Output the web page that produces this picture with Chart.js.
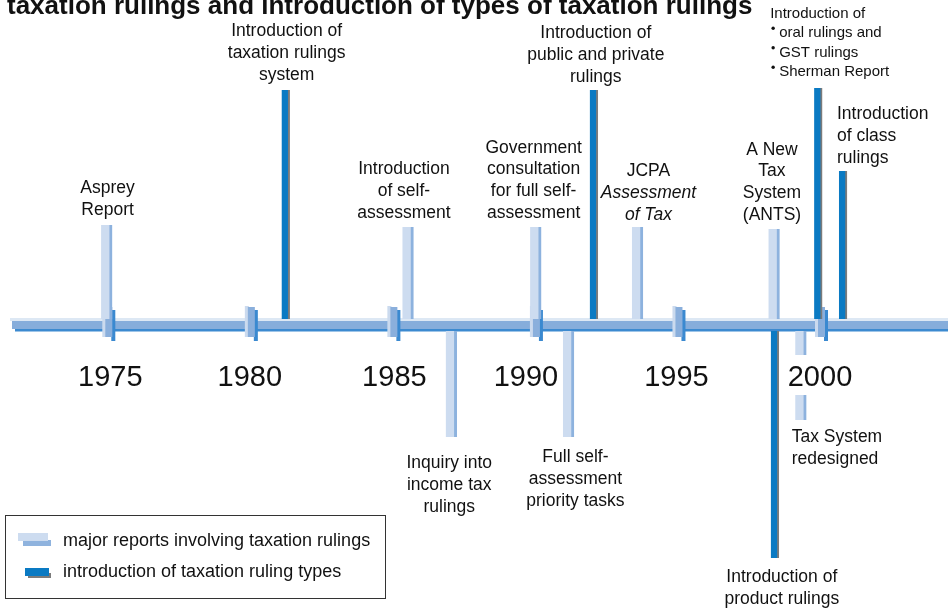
<!DOCTYPE html>
<html>
<head>
<meta charset="utf-8">
<script src="https://cdn.jsdelivr.net/npm/chart.js@4.4.0/dist/chart.umd.min.js"></script>
<style>
  html, body { margin: 0; padding: 0; background: #fff; }
  #wrap { width: 948px; height: 610px; }
</style>
</head>
<body>
<div id="wrap"><canvas id="timeline" width="948" height="610"></canvas></div>
<script>
var titleText = 'taxation rulings and introduction of types of taxation rulings';
var tickYears = [1975, 1980, 1985, 1990, 1995, 2000];
var legendLabels = ['major reports involving taxation rulings', 'introduction of taxation ruling types'];

// major reports involving taxation rulings (year, stem length above/below the line)
var reportYears = [1974.94, 1985.51, 1987.03, 1989.99, 1991.14, 1993.56, 1998.35, 1999.29];
var reportStems = [100, 98, -112, 98, -112, 98, 96, -95];
var reportLabels = [
  ['Asprey', 'Report'],
  ['Introduction', 'of self-', 'assessment'],
  ['Inquiry into', 'income tax', 'rulings'],
  ['Government', 'consultation', 'for full self-', 'assessment'],
  ['Full self-', 'assessment', 'priority tasks'],
  ['JCPA', 'Assessment', 'of Tax'],
  ['A New', 'Tax', 'System', '(ANTS)'],
  ['Tax System', 'redesigned']
];

// introduction of taxation ruling types
var rulingYears = [1981.22, 1992.03, 1998.38, 1999.90, 2000.77];
var rulingStems = [235, 235, -233, 237, 154];
var rulingLabels = [
  ['Introduction of', 'taxation rulings', 'system'],
  ['Introduction of', 'public and private', 'rulings'],
  ['Introduction of', 'product rulings'],
  ['Introduction of', '\u2022 oral rulings and', '\u2022 GST rulings', '\u2022 Sherman Report'],
  ['Introduction', 'of class', 'rulings']
];

// label placement tweaks (pixels)
var reportLabelStyle = [
  { dx: 1, gap: 10 }, { dx: -4 }, { dx: -2, dy: 31 }, { dx: -2 },
  { dx: 7, dy: 25 }, { dx: 11, italicFrom: 1, gap: 7 }, { dx: -2 },
  { align: 'left', dx: -9, dy: 22 }
];
var rulingLabelStyle = [
  { dx: 1, gap: 10 }, { dx: 2, gap: 8 }, { dx: 7, dy: 24 },
  { align: 'left', dx: -48, size: 15, lh: 19.5, gap: 12 },
  { align: 'left', dx: -6, gap: 8 }
];
var yearLabelDx = [2, -1, 1, -10, -2, -1];

var FONT = '"Liberation Sans", Arial, Helvetica, sans-serif';
var pxPerYear = 28.508;
var xMin = 1975 - 108.3 / pxPerYear;
var xMax = xMin + 948 / pxPerYear;

function stemRange(s) {
  return s > 0 ? [6, s] : [-6, s];
}

function drawLabel(ctx, el, lines, st, up) {
  st = st || {};
  var size = st.size || 17.5;
  var lh = st.lh || 21.8;
  var x = el.x + (st.dx || 0);
  var y0 = up ? el.y - (st.gap || 9) - (lines.length - 1) * lh : el.y + (st.dy || 25);
  ctx.textAlign = st.align || 'center';
  ctx.textBaseline = 'alphabetic';
  ctx.fillStyle = '#111';
  lines.forEach(function (line, i) {
    var italic = st.italicFrom != null && i >= st.italicFrom;
    ctx.font = (italic ? 'italic ' : '') + size + 'px ' + FONT;
    var y = y0 + i * lh;
    if (line.charAt(0) === '\u2022') {
      ctx.beginPath();
      ctx.arc(x + 3, y - size * 0.58, 1.7, 0, Math.PI * 2);
      ctx.fill();
      ctx.fillText(line.slice(2), x + 9, y);
    } else {
      ctx.fillText(line, x, y);
    }
  });
}

var timelinePlugin = {
  id: 'timeline',
  beforeDatasetsDraw: function (chart) {
    var ctx = chart.ctx;
    var xs = chart.scales.x, ys = chart.scales.y;
    var yc = ys.getPixelForValue(0);
    var left = chart.chartArea.left + 12, right = chart.chartArea.right;
    ctx.save();
    // main line
    ctx.fillStyle = '#dde8f4';
    ctx.fillRect(left - 2, yc - 7, right - left + 2, 3);
    ctx.fillStyle = '#3c8ad0';
    ctx.fillRect(left + 3, yc + 4, right - left, 2.5);
    ctx.fillStyle = '#86addb';
    ctx.fillRect(left, yc - 4, right - left, 8);
    // year markers
    tickYears.forEach(function (yr) {
      var tx = xs.getPixelForValue(yr);
      ctx.fillStyle = '#cbdaee';
      ctx.fillRect(tx - 6, yc - 19, 4, 31);
      ctx.fillStyle = '#3a89d0';
      ctx.fillRect(tx + 3, yc - 15, 4, 31);
      ctx.fillStyle = '#8aafdc';
      ctx.fillRect(tx - 3, yc - 18, 7, 30);
    });
    ctx.restore();
  },
  afterDatasetsDraw: function (chart) {
    var ctx = chart.ctx;
    var xs = chart.scales.x, ys = chart.scales.y;
    var yc = ys.getPixelForValue(0);
    ctx.save();
    // year labels with white backdrop
    ctx.font = '29px ' + FONT;
    ctx.textAlign = 'center';
    ctx.textBaseline = 'alphabetic';
    tickYears.forEach(function (yr, i) {
      var lx = xs.getPixelForValue(yr) + yearLabelDx[i];
      var w = ctx.measureText(String(yr)).width;
      ctx.fillStyle = '#fff';
      ctx.fillRect(lx - w / 2 - 1, yc + 30, w + 2, 40);
      ctx.fillStyle = '#111';
      ctx.fillText(String(yr), lx, yc + 61);
    });
    // event labels
    var m0 = chart.getDatasetMeta(0), m1 = chart.getDatasetMeta(1);
    reportLabels.forEach(function (lines, i) {
      drawLabel(ctx, m0.data[i], lines, reportLabelStyle[i], reportStems[i] > 0);
    });
    rulingLabels.forEach(function (lines, i) {
      drawLabel(ctx, m1.data[i], lines, rulingLabelStyle[i], rulingStems[i] > 0);
    });
    ctx.restore();
  },
  afterDraw: function (chart) {
    var ctx = chart.ctx;
    ctx.save();
    // title (clipped at top as in the original)
    ctx.fillStyle = '#111';
    ctx.font = 'bold 26px ' + FONT;
    ctx.textAlign = 'left';
    ctx.textBaseline = 'alphabetic';
    ctx.fillText(titleText, 7, 14);
    // legend
    ctx.strokeStyle = '#333';
    ctx.lineWidth = 1;
    ctx.strokeRect(5.5, 515.5, 380, 83);
    ctx.fillStyle = '#8fb3de';
    ctx.fillRect(23, 540, 28, 6);
    ctx.fillStyle = '#cddcf0';
    ctx.fillRect(18, 533, 30, 8);
    ctx.fillStyle = '#7b7b7b';
    ctx.fillRect(28, 573, 23, 5);
    ctx.fillStyle = '#0a7ac3';
    ctx.fillRect(25, 568, 24, 8);
    ctx.fillStyle = '#111';
    ctx.font = '18px ' + FONT;
    ctx.fillText(legendLabels[0], 63, 545.5);
    ctx.fillText(legendLabels[1], 63, 577);
    ctx.restore();
  }
};

var chart = new Chart(document.getElementById('timeline'), {
  type: 'bar',
  data: {
    datasets: [{
      label: legendLabels[0],
      data: reportYears.map(function (yr, i) { return { x: yr, y: stemRange(reportStems[i]) }; }),
      backgroundColor: '#cddcf0',
      borderColor: '#8db2de',
      borderWidth: { left: 0, top: 0, bottom: 0, right: 3 },
      borderSkipped: false,
      barThickness: 11,
      grouped: false
    }, {
      label: legendLabels[1],
      data: rulingYears.map(function (yr, i) { return { x: yr, y: stemRange(rulingStems[i]) }; }),
      backgroundColor: '#0a7ac3',
      borderColor: '#7b7b7b',
      borderWidth: { left: 0, top: 0, bottom: 0, right: 2 },
      borderSkipped: false,
      barThickness: 8,
      grouped: false
    }]
  },
  options: {
    responsive: false,
    animation: false,
    layout: { padding: 0 },
    plugins: {
      legend: { display: false },
      title: { display: false },
      tooltip: { enabled: false }
    },
    scales: {
      x: { type: 'linear', min: xMin, max: xMax, display: false, offset: false },
      y: { type: 'linear', min: -285, max: 325, display: false }
    }
  },
  plugins: [timelinePlugin]
});
</script>
</body>
</html>
